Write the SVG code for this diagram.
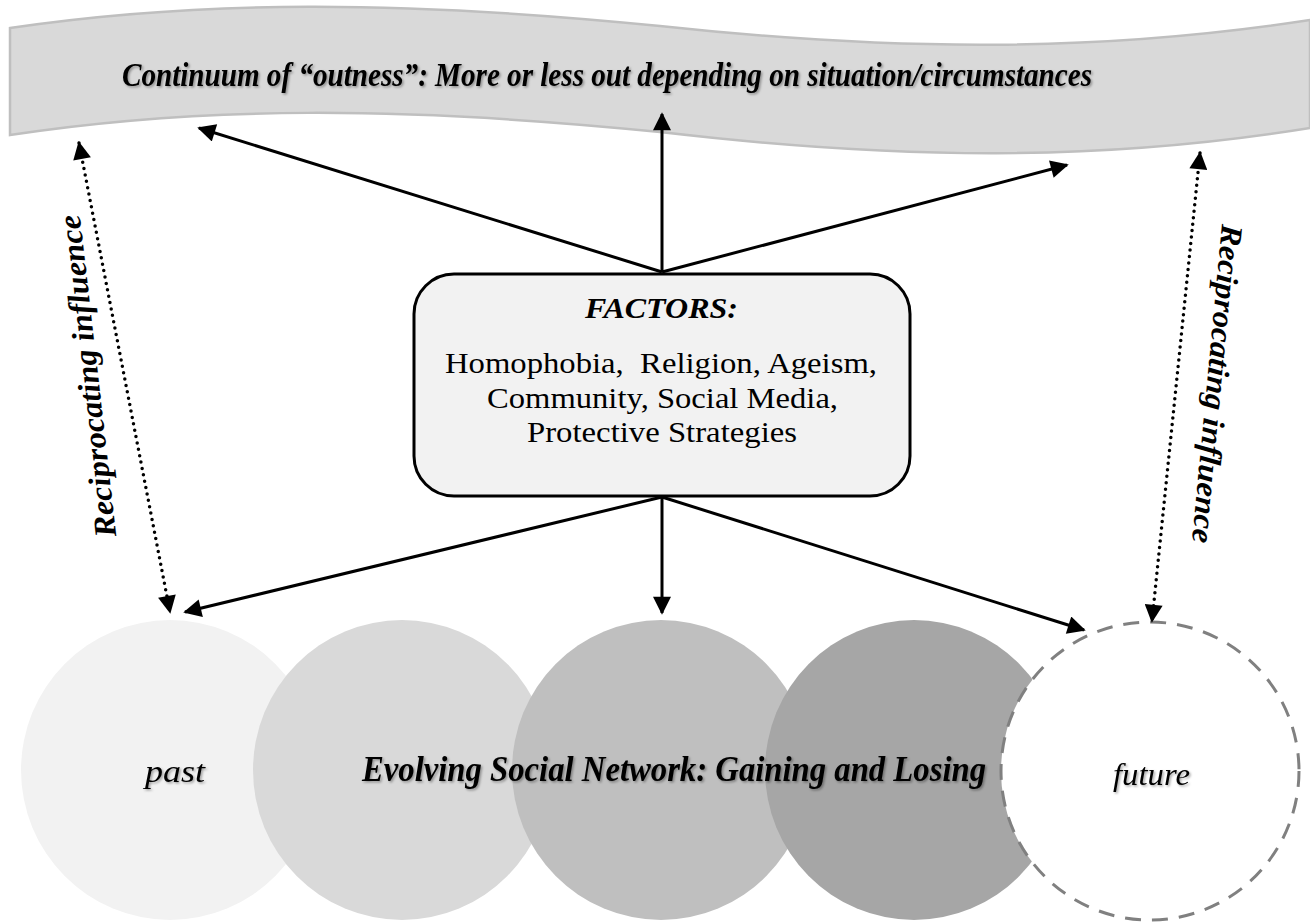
<svg xmlns="http://www.w3.org/2000/svg" width="1310" height="924" viewBox="0 0 1310 924">
<style>
.serif{font-family:"Liberation Serif","Times New Roman",serif;fill:#000}
.bi{font-weight:bold;font-style:italic}
.it{font-style:italic}
.conn{stroke:#000;stroke-width:3;fill:none}
.dot{stroke:#000;stroke-width:3.5;fill:none;stroke-dasharray:0 6.5;stroke-linecap:round}
</style>
<defs>
<marker id="ah" viewBox="0 0 10 10" refX="9" refY="5" markerWidth="22" markerHeight="18" markerUnits="userSpaceOnUse" orient="auto-start-reverse">
<path d="M0,0 L10,5 L0,10 Z" fill="#000"/>
</marker>
<filter id="sh" x="-5%" y="-20%" width="110%" height="140%">
<feDropShadow dx="1.5" dy="1.5" stdDeviation="1" flood-color="#000" flood-opacity="0.35"/>
</filter>
</defs>
<rect width="1310" height="924" fill="#fff"/>

<g id="banner">
<path d="M10,28 C200,0 400,0 660,26 C900,52 1100,52 1310,20 L1310,128 C1100,162 900,160 660,132 C400,106 200,106 10,135 Z" fill="#d9d9d9" stroke="#bfbfbf" stroke-width="2.5"/>
<text class="serif bi" x="122" y="86" font-size="33" textLength="970" lengthAdjust="spacingAndGlyphs" filter="url(#sh)">Continuum of “outness”: More or less out depending on situation/circumstances</text>
</g>

<g id="network">
<ellipse cx="170" cy="770" rx="149" ry="150" fill="#f2f2f2"/>
<ellipse cx="402" cy="770" rx="149" ry="150" fill="#d9d9d9"/>
<ellipse cx="661" cy="770" rx="149" ry="150" fill="#bfbfbf"/>
<ellipse cx="914" cy="770" rx="149" ry="150" fill="#a6a6a6"/>
<text class="serif it" x="145" y="782" font-size="32" textLength="60" lengthAdjust="spacingAndGlyphs" filter="url(#sh)">past</text>
</g>

<g id="future">
<circle cx="1150" cy="771" r="149" fill="#fff" stroke="#808080" stroke-width="3" stroke-dasharray="16 11"/>
<text class="serif it" x="1113" y="785" font-size="32" textLength="77" lengthAdjust="spacingAndGlyphs" filter="url(#sh)">future</text>
</g>

<g id="network-label">
<text class="serif bi" x="362" y="781" font-size="35" textLength="624" lengthAdjust="spacingAndGlyphs" filter="url(#sh)">Evolving Social Network: Gaining and Losing</text>
</g>

<g id="factors">
<rect x="414" y="274" width="496" height="222" rx="40" ry="40" fill="#f2f2f2" stroke="#000" stroke-width="3"/>
<text class="serif bi" x="585" y="318" font-size="30" textLength="153" lengthAdjust="spacingAndGlyphs">FACTORS:</text>
<text class="serif" x="445" y="373" font-size="29" textLength="432" lengthAdjust="spacingAndGlyphs" xml:space="preserve">Homophobia,  Religion, Ageism,</text>
<text class="serif" x="487" y="408" font-size="29" textLength="351" lengthAdjust="spacingAndGlyphs">Community, Social Media,</text>
<text class="serif" x="527" y="442" font-size="29" textLength="270" lengthAdjust="spacingAndGlyphs">Protective Strategies</text>
</g>

<g id="connectors">
<line class="conn" x1="662" y1="272" x2="199" y2="128" marker-end="url(#ah)"/>
<line class="conn" x1="662" y1="272" x2="662" y2="114" marker-end="url(#ah)"/>
<line class="conn" x1="662" y1="272" x2="1067" y2="165" marker-end="url(#ah)"/>
<line class="conn" x1="662" y1="497" x2="185" y2="612" marker-end="url(#ah)"/>
<line class="conn" x1="662" y1="497" x2="662" y2="613" marker-end="url(#ah)"/>
<line class="conn" x1="662" y1="497" x2="1084" y2="630" marker-end="url(#ah)"/>
<line class="dot" x1="79" y1="143" x2="170" y2="612" marker-start="url(#ah)" marker-end="url(#ah)"/>
<line class="dot" x1="1200" y1="153" x2="1152" y2="621" marker-start="url(#ah)" marker-end="url(#ah)"/>
</g>

<g id="labels">
<text class="serif bi" font-size="31" text-anchor="middle" textLength="324" lengthAdjust="spacingAndGlyphs" transform="translate(98,375) rotate(-96.5)">Reciprocating influence</text>
<text class="serif bi" font-size="31" text-anchor="middle" textLength="320" lengthAdjust="spacingAndGlyphs" transform="translate(1207,383) rotate(95.4)">Reciprocating influence</text>
</g>
</svg>
